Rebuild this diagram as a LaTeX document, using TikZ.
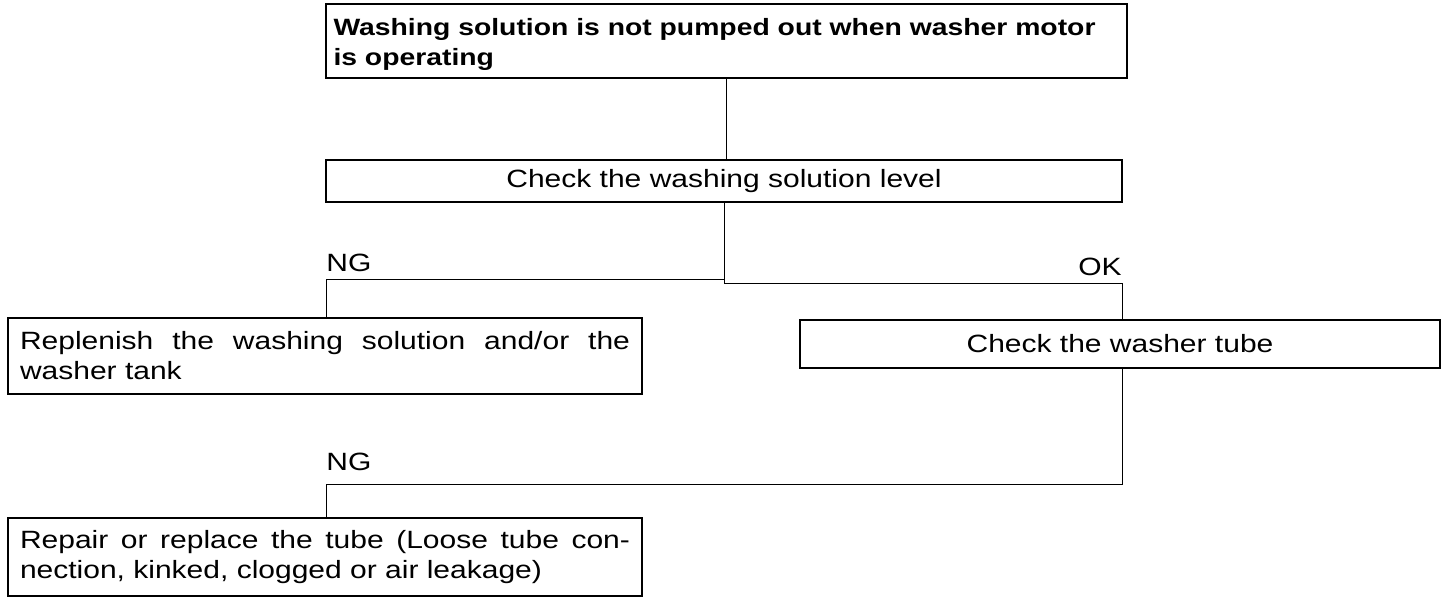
\documentclass[tikz,border=0pt]{standalone}
\usepackage{fontspec}
\setmainfont{Liberation Sans}[FakeStretch=1.2]
\begin{document}
\begin{tikzpicture}[x=0.5pt,y=-0.5pt,
  box/.style={draw,line width=1pt,inner sep=0pt,font=\fontsize{12.5}{15}\selectfont},
  conn/.style={draw,line width=0.5pt},
  lbl/.style={inner sep=0pt,font=\fontsize{12.5}{15}\selectfont}]
\useasboundingbox (0,0) rectangle (1456,600);
\node[box,minimum width=400.5pt,minimum height=37pt,text width=393pt,align=left,
  font=\bfseries\fontsize{11.8}{15}\selectfont] (top) at (726.5,41)
  {\rule{0pt}{12pt}Washing solution is not pumped out when washer motor\\is operating};
\node[box,minimum width=398pt,minimum height=21pt] (lvl) at (724,181)
  {Check the washing solution level};
\node[box,minimum width=317pt,minimum height=38pt,text width=305pt,align=justify] (rep) at (325,356)
  {Replenish the washing solution and/or the\linebreak washer tank};
\node[box,minimum width=320pt,minimum height=24pt] (tube) at (1120,344)
  {Check the washer tube};
\node[box,minimum width=317pt,minimum height=39pt,text width=305pt,align=justify] (fix) at (325,557)
  {Repair or replace the tube (Loose tube con-\linebreak nection, kinked, clogged or air leakage)};
\coordinate (ngL) at (326,279);
\coordinate (okR) at (1122,283);
\coordinate (ng2) at (326,484);
\draw[conn] (top.south) -- (top.south |- lvl.north);
\draw[conn] (lvl.south) |- (ngL) -- (ngL |- rep.north);
\draw[conn] (lvl.south) |- (okR) -- (okR |- tube.north);
\draw[conn] (tube.south -| okR) |- (ng2) -- (ng2 |- fix.north);
\node[lbl,anchor=base west] (ngA) at (326,271) {NG};
\node[lbl,anchor=base east] (okA) at (1122,275) {OK};
\node[lbl,anchor=base west] (ngB) at (326,470) {NG};
\end{tikzpicture}
\end{document}
